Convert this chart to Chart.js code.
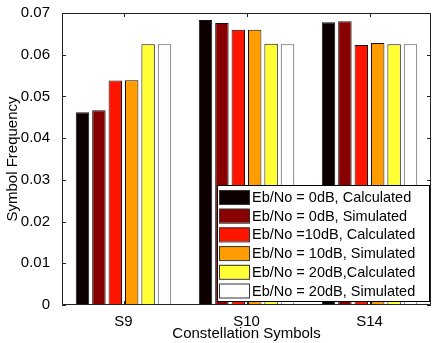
<!DOCTYPE html>
<html>
<head>
<meta charset="utf-8">
<script src="https://cdn.jsdelivr.net/npm/chart.js@4.4.1/dist/chart.umd.min.js"></script>
<style>
  html, body { margin: 0; padding: 0; background: #fff; }
  #wrap { width: 432px; height: 343px; }
</style>
</head>
<body>
<div id="wrap"><canvas id="c" width="432" height="343"></canvas></div>
<script>
// Kategorier och serier
const symbols = ['S9', 'S10', 'S14'];
const seriesNames = [
  'Eb/No = 0dB, Calculated',
  'Eb/No = 0dB, Simulated',
  'Eb/No =10dB, Calculated',
  'Eb/No = 10dB, Simulated',
  'Eb/No = 20dB,Calculated',
  'Eb/No = 20dB, Simulated'
];
const calc0 = [0.0462, 0.0683, 0.0678];
const sim0 = [0.0467, 0.0676, 0.0680];
const calc10 = [0.0538, 0.0660, 0.0623];
const sim10 = [0.0539, 0.0660, 0.0628];
const calc20 = [0.0625, 0.0626, 0.0625];
const sim20 = [0.0625, 0.0625, 0.0625];
const yTicks = [0, 0.01, 0.02, 0.03, 0.04, 0.05, 0.06, 0.07];

const colors = ['#0c0000', '#880000', '#ff1500', '#ff9d00', '#ffff33', '#ffffff'];
const allSeries = [calc0, sim0, calc10, sim10, calc20, sim20];

const FONT = 'Liberation Sans, Arial, Helvetica, sans-serif';

// Ram med inåtriktade streck (MATLAB-stil) och legend i ritytan
const framePlugin = {
  id: 'frame',
  afterDatasetsDraw(chart) {
    const { ctx, chartArea: a, scales } = chart;
    ctx.save();
    ctx.strokeStyle = '#222';
    ctx.lineWidth = 1;
    ctx.beginPath();
    ctx.rect(a.left + 0.5, a.top + 0.5, a.right - a.left - 1, a.bottom - a.top - 1);
    ctx.stroke();
    // y-streck vänster och höger
    yTicks.forEach(v => {
      const y = Math.round(scales.y.getPixelForValue(v)) + 0.5;
      ctx.beginPath();
      ctx.moveTo(a.left, y); ctx.lineTo(a.left + 4, y);
      ctx.moveTo(a.right, y); ctx.lineTo(a.right - 4, y);
      ctx.stroke();
    });
    // x-streck botten och topp
    symbols.forEach((s, i) => {
      const x = Math.round(scales.x.getPixelForValue(i)) + 0.5;
      ctx.beginPath();
      ctx.moveTo(x, a.bottom); ctx.lineTo(x, a.bottom - 4);
      ctx.moveTo(x, a.top); ctx.lineTo(x, a.top + 4);
      ctx.stroke();
    });

    // Legend
    const lx = 217, ly = 185, lw = 212, lh = 116;
    ctx.fillStyle = '#fff';
    ctx.fillRect(lx, ly, lw, lh);
    ctx.strokeStyle = '#000';
    ctx.strokeRect(lx + 0.5, ly + 0.5, lw, lh);
    ctx.font = '14.5px ' + FONT;
    ctx.textBaseline = 'middle';
    chart.data.datasets.forEach((ds, i) => {
      const cy = ly + 12 + i * 18.7;
      ctx.fillStyle = ds.backgroundColor;
      ctx.fillRect(lx + 2, cy - 7, 30, 14);
      ctx.strokeStyle = '#333';
      ctx.strokeRect(lx + 2.5, cy - 6.5, 30, 14);
      ctx.fillStyle = '#000';
      ctx.fillText(ds.label, lx + 35, cy + 1);
    });
    ctx.restore();
  }
};

new Chart(document.getElementById('c'), {
  type: 'bar',
  data: {
    labels: symbols,
    datasets: allSeries.map((d, i) => ({
      label: seriesNames[i],
      data: d,
      backgroundColor: colors[i],
      borderColor: i === 5 ? '#555' : '#111',
      borderWidth: 1,
      borderSkipped: 'bottom',
      categoryPercentage: 0.8,
      barPercentage: 0.82
    }))
  },
  options: {
    responsive: false,
    animation: false,
    devicePixelRatio: 1,
    layout: { padding: { top: 12, right: 1, left: 0, bottom: 0 } },
    plugins: { legend: { display: false }, tooltip: { enabled: false } },
    scales: {
      x: {
        grid: { display: false },
        border: { display: false },
        ticks: { color: '#000', font: { family: FONT, size: 15 }, padding: 0 },
        title: { display: true, text: 'Constellation Symbols', color: '#000',
                 font: { family: FONT, size: 15 }, padding: { top: 0, bottom: 0 } },
        afterFit: s => { s.height = 38; }
      },
      y: {
        min: 0, max: 0.07,
        afterBuildTicks: s => { s.ticks = yTicks.map(v => ({ value: v })); },
        grid: { display: false },
        border: { display: false },
        ticks: { color: '#000', font: { family: FONT, size: 15 }, padding: 4,
                 callback: v => v === 0 ? '0' : v.toFixed(2) },
        title: { display: true, text: 'Symbol Frequency', color: '#000',
                 font: { family: FONT, size: 15 }, padding: { top: 4, bottom: 0 } },
        afterFit: s => { s.width = 62; }
      }
    }
  },
  plugins: [framePlugin]
});
</script>
</body>
</html>
